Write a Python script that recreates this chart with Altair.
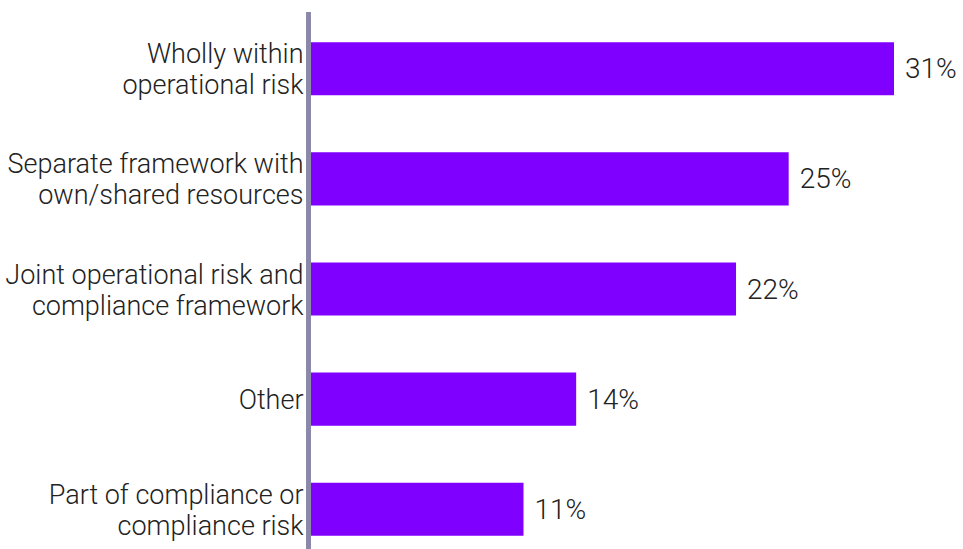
import altair as alt
import pandas as pd

categories = [
    "Wholly within|operational risk",
    "Separate framework with|own/shared resources",
    "Joint operational risk and|compliance framework",
    "Other",
    "Part of compliance or|compliance risk",
]
values = [31.0, 25.4, 22.6, 14.1, 11.3]
value_labels = ["31%", "25%", "22%", "14%", "11%"]

df = pd.DataFrame({"category": categories, "value": values, "label": value_labels})

FONT = "Roboto"

y_enc = alt.Y(
    "category:N",
    sort=categories,
    scale=alt.Scale(paddingInner=0.518, paddingOuter=0.12),
    axis=alt.Axis(
        title=None,
        domain=False,
        ticks=False,
        labelExpr="split(datum.label, '|')",
        labelFont=FONT,
        labelFontSize=27,
        labelFontWeight=300,
        labelColor="#222222",
        labelLineHeight=31,
        labelPadding=8,
        labelLimit=400,
        labelOffset={"condition": {"test": "indexof(datum.value, '|') >= 0", "value": -13.5}, "value": 2},
    ),
)
x_enc = alt.X(
    "value:Q",
    scale=alt.Scale(domain=[0, 31], nice=False, zero=True),
    axis=None,
)

bars = alt.Chart(df).mark_bar(color="#8000FF").encode(x=x_enc, y=y_enc)

texts = alt.Chart(df).mark_text(
    align="left", baseline="middle", dx=11, dy=1.5, font=FONT, fontSize=28,
    fontWeight=300, color="#222222"
).encode(x=x_enc, y=alt.Y("category:N", sort=categories), text="label:N")

axis_line = alt.Chart(df).mark_rule(color="#8A87A8", strokeWidth=4).encode(
    x=alt.value(-2.5), y=alt.value(-17), y2=alt.value(520)
)

chart = (
    alt.layer(bars, texts, axis_line)
    .properties(
        width=583,
        height=520,
        autosize=alt.AutoSizeParams(type="none"),
        padding={"left": 311, "top": 29, "right": 69, "bottom": 0},
        background="white",
    )
    .configure_view(stroke=None)
)

chart.save("out.html", embed_options={"renderer": "svg", "actions": False})
